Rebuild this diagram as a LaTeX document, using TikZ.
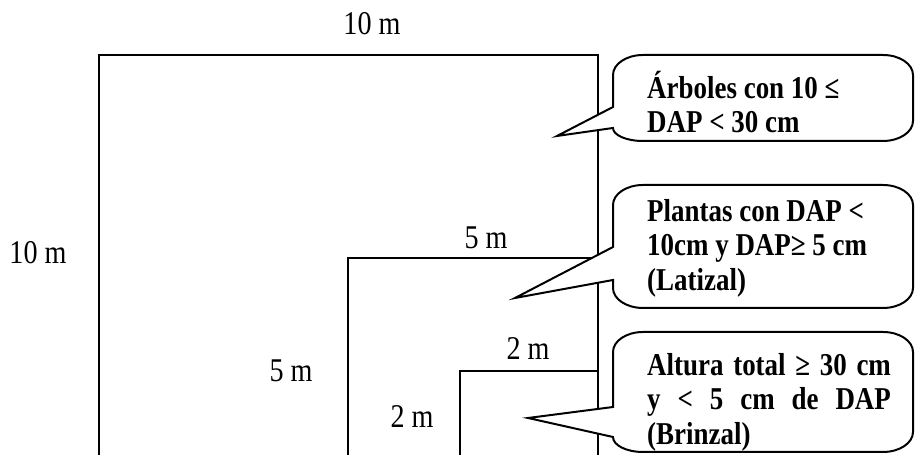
\documentclass[tikz,border=0pt]{standalone}
\usepackage{graphicx}
\usepackage{fontspec}
\setmainfont{Liberation Serif}
\newcommand\vstretch[1]{\scalebox{1}[1.18]{#1}}
\newcommand\bubblefont{\fontsize{23}{25}\selectfont\bfseries}
\begin{document}
\begin{tikzpicture}[x=0.03cm,y=0.03cm,
  plotline/.style={line width=1.3pt},
  bubble/.style={line width=1.7pt, fill=white, line join=miter},
  dimlabel/.style={font=\fontsize{24}{28}\selectfont, inner sep=0pt},
  bubbletext/.style={inner sep=0pt, anchor=west}]
\useasboundingbox (0,0) rectangle (916,455);
% plots
\draw[plotline] (99,0) -- (99,400) -- (598,400) -- (598,0);
\draw[plotline] (348,0) -- (348,197) -- (598,197);
\draw[plotline] (460,0) -- (460,84) -- (598,84);
% dimension labels
\node[dimlabel] (top10) at (372,431) {\vstretch{10 m}};
\node[dimlabel] (left10) at (38,202) {\vstretch{10 m}};
\node[dimlabel] (top5) at (486,217) {\vstretch{5 m}};
\node[dimlabel] (left5) at (291,84) {\vstretch{5 m}};
\node[dimlabel] (top2) at (528,106) {\vstretch{2 m}};
\node[dimlabel] (left2) at (412,38) {\vstretch{2 m}};
% callout 1
\draw[bubble] (613,348) -- (613,380) arc[start angle=180,end angle=90,x radius=30,y radius=20]
  -- (883,400) arc[start angle=90,end angle=0,x radius=30,y radius=20]
  -- (913,334) arc[start angle=0,end angle=-90,x radius=30,y radius=20]
  -- (643,314) arc[start angle=270,end angle=180,x radius=30,y radius=13]
  -- (613,327) -- (557,319) -- cycle;
% callout 2
\draw[bubble] (613,208) -- (613,250) arc[start angle=180,end angle=90,x radius=30,y radius=20]
  -- (883,270) arc[start angle=90,end angle=0,x radius=30,y radius=20]
  -- (913,167) arc[start angle=0,end angle=-90,x radius=30,y radius=20]
  -- (643,147) arc[start angle=270,end angle=180,x radius=30,y radius=20]
  -- (613,175) -- (515,157) -- cycle;
% callout 3
\draw[bubble] (613,48) -- (613,103) arc[start angle=180,end angle=90,x radius=30,y radius=20]
  -- (883,123) arc[start angle=90,end angle=0,x radius=30,y radius=20]
  -- (913,23) arc[start angle=0,end angle=-90,x radius=30,y radius=20]
  -- (643,3) arc[start angle=270,end angle=180,x radius=30,y radius=15]
  -- (613,18) -- (528,37) -- cycle;
% callout texts
\node[bubbletext] (t1) at (647,353) {\vstretch{\parbox{230pt}{\bubblefont Árboles con 10 ≤\\DAP < 30 cm}}};
\node[bubbletext] (t2) at (647,207) {\vstretch{\parbox{230pt}{\bubblefont Plantas con DAP <\\10cm y DAP≥ 5 cm\\(Latizal)}}};
\node[bubbletext] (t3) at (647,53) {\vstretch{\parbox{208pt}{\bubblefont Altura total ≥ 30 cm\linebreak y < 5 cm de DAP\linebreak (Brinzal)}}};
\end{tikzpicture}
\end{document}
